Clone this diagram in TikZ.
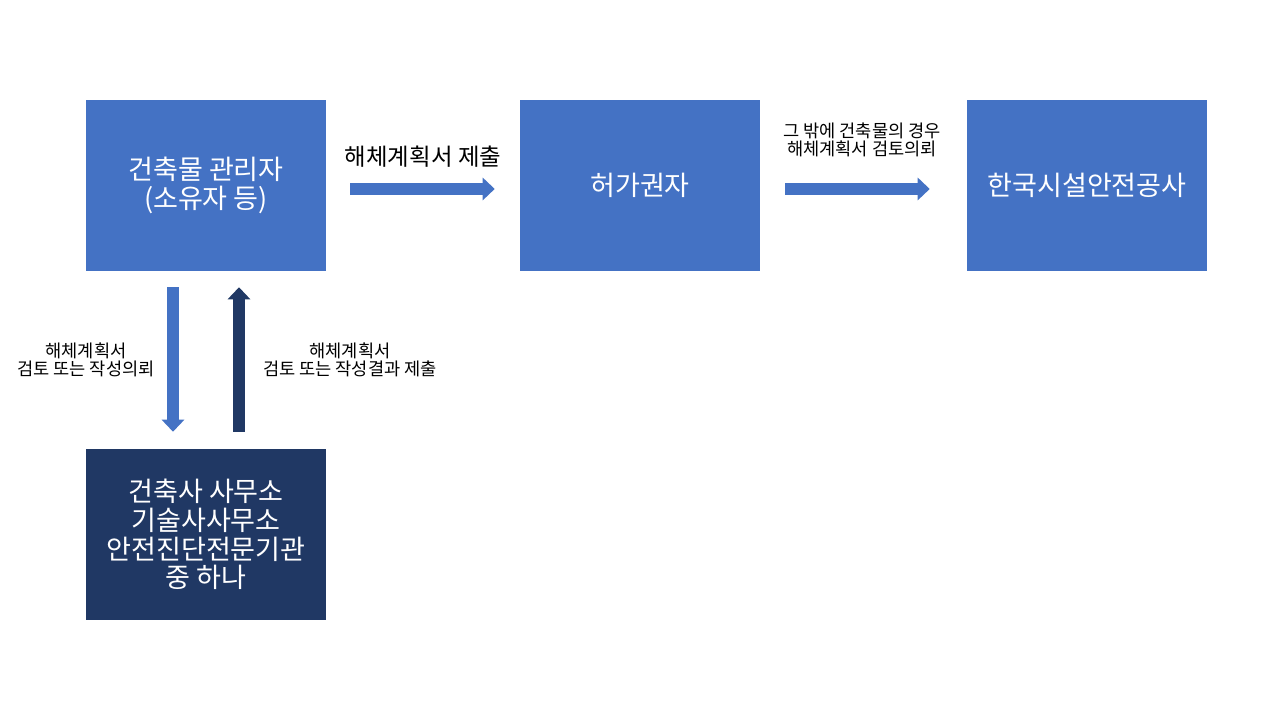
\documentclass[tikz,border=0pt]{standalone}
\usepackage{fontspec}
\setmainfont{Noto Sans CJK KR}
\usetikzlibrary{arrows.meta}
\definecolor{boxblue}{HTML}{4472C4}
\definecolor{boxnavy}{HTML}{203864}

\begin{document}
\begin{tikzpicture}[x=0.75pt,y=-0.75pt,
  box/.style={minimum width=180pt,minimum height=128.25pt,inner sep=0pt,
    fill=boxblue,text=white,align=center,font=\fontsize{20.3}{21.5}\selectfont},
  lab/.style={align=center,font=\fontsize{13.2}{13.5}\selectfont},
  blk/.style={line width=8.6pt,-{Triangle[width=16.5pt,length=9pt]}}]
\useasboundingbox (0,0) rectangle (1280,720);
\node[box] (owner) at (206,185.5) {건축물 관리자\\(소유자 등)};
\node[box] (permit) at (640,185.5) {허가권자};
\node[box] (kosha) at (1087,185.5) {한국시설안전공사};
\node[box,fill=boxnavy] (office) at (206,534.5) {건축사 사무소\\기술사사무소\\안전진단전문기관\\중 하나};
\draw[blk,boxblue,shorten <=18pt,shorten >=18.75pt]
  ([yshift=-2.6pt]owner.east) -- ([yshift=-2.6pt]permit.west);
\node[font=\fontsize{17.6}{18}\selectfont] (submit) at (423,157) {해체계획서 제출};
\draw[blk,boxblue,shorten <=18.75pt,shorten >=27.75pt]
  ([yshift=-2.6pt]permit.east) -- ([yshift=-2.6pt]kosha.west);
\node[lab] (other) at (862,140) {그 밖에 건축물의 경우\\해체계획서 검토의뢰};
\draw[blk,boxblue,shorten <=12pt,shorten >=12.75pt]
  ([xshift=-24.75pt]owner.south) -- ([xshift=-24.75pt]office.north);
\node[lab] (request) at (86,360) {해체계획서\\검토 또는 작성의뢰};
\draw[blk,boxnavy,shorten <=12.75pt,shorten >=12pt]
  ([xshift=24.75pt]office.north) -- ([xshift=24.75pt]owner.south);
\node[lab] (result) at (350,360) {해체계획서\\검토 또는 작성결과 제출};
\end{tikzpicture}
\end{document}
